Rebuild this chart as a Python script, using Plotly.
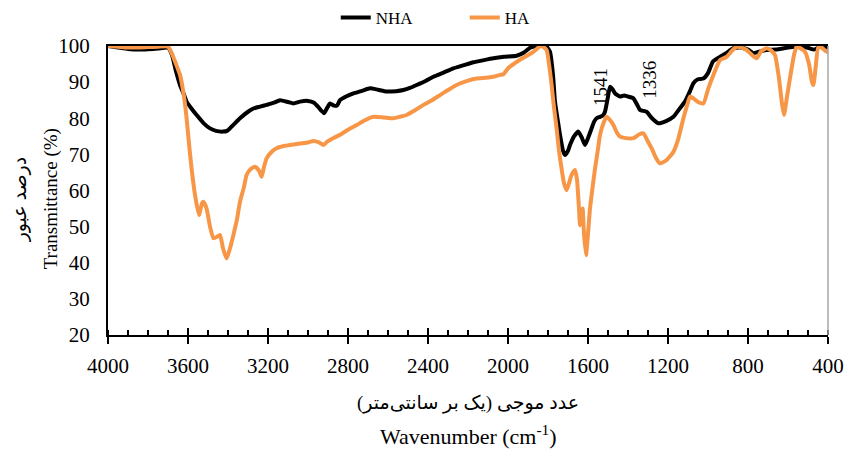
import plotly.graph_objects as go

# ---- data ----
nha_wn = [4000, 3950, 3900, 3850, 3800, 3750, 3700, 3680, 3660, 3640, 3620, 3607, 3580, 3557, 3520,
          3490, 3460, 3425, 3405, 3380, 3340, 3300, 3273, 3240, 3207, 3170, 3140, 3100, 3073, 3040,
          3000, 2970, 2950, 2935, 2920, 2905, 2890, 2870, 2855, 2840, 2810, 2773, 2730, 2690, 2650,
          2607, 2560, 2523, 2490, 2457, 2410, 2373, 2320, 2273, 2220, 2173, 2120, 2073, 2020, 1957,
          1920, 1890, 1860, 1840, 1810, 1790, 1775, 1765, 1750, 1740, 1725, 1715, 1700, 1690, 1670,
          1648, 1630, 1615, 1600, 1582, 1570, 1557, 1540, 1525, 1515, 1500, 1490, 1477, 1465, 1440,
          1420, 1400, 1373, 1355, 1340, 1320, 1307, 1280, 1248, 1210, 1173, 1140, 1115, 1090, 1073,
          1050, 1023, 1000, 975, 940, 910, 873, 840, 800, 773, 740, 707, 660, 607, 560, 500, 470, 440, 400]
nha_t = [100, 99.6, 99.2, 99.0, 99.1, 99.3, 99.5, 97.5, 93, 89.2, 86.5, 84.6, 82.5, 80.9, 78.5,
         77.2, 76.5, 76.3, 76.5, 77.8, 80, 81.8, 82.7, 83.2, 83.7, 84.3, 85, 84.5, 84.1, 84.6,
         84.8, 84.3, 83.2, 82.2, 81.4, 82.8, 84.1, 83.5, 83.5, 85, 86, 86.9, 87.6, 88.3, 87.9,
         87.4, 87.5, 87.8, 88.4, 89.2, 90.4, 91.5, 92.7, 93.8, 94.7, 95.5, 96.1, 96.6, 97, 97.3,
         98.2, 99.5, 100, 100, 100, 98.4, 92, 84.6, 79, 75.4, 71, 69.8, 71, 72.6, 75,
         76.3, 74.5, 72.6, 74.5, 77.2, 79, 80, 80.4, 80.8, 81.8, 86, 88.7, 88, 86.9, 86,
         86.3, 86, 85.5, 83.8, 82.3, 82, 81.8, 80, 78.6, 79.2, 80.4, 82.8, 84.6, 87.5, 89.7,
         90.8, 91, 92.5, 95.7, 97, 98, 99.4, 99.6, 99, 98, 98.5, 98.9, 99, 99.5, 99.8, 99.5, 99, 99.8, 99.6]

ha_wn = [4000, 3950, 3900, 3850, 3800, 3750, 3700, 3682, 3660, 3640, 3620, 3607, 3595, 3582, 3565,
         3545, 3530, 3523, 3507, 3490, 3473, 3455, 3440, 3425, 3407, 3390, 3373, 3355, 3340, 3320,
         3307, 3285, 3265, 3245, 3232, 3220, 3207, 3180, 3157, 3120, 3090, 3040, 3000, 2973, 2945,
         2923, 2905, 2890, 2870, 2840, 2800, 2757, 2720, 2673, 2620, 2573, 2540, 2507, 2465, 2423,
         2380, 2340, 2300, 2257, 2200, 2157, 2110, 2073, 2040, 2023, 2000, 1990, 1940, 1900, 1873,
         1850, 1832, 1807, 1795, 1782, 1770, 1757, 1745, 1732, 1720, 1707, 1695, 1682, 1665, 1655,
         1645, 1640, 1633, 1627, 1620, 1610, 1600, 1590, 1578, 1565, 1550, 1540, 1520, 1507, 1490,
         1473, 1455, 1440, 1410, 1373, 1345, 1323, 1300, 1282, 1260, 1240, 1210, 1173, 1150, 1123,
         1105, 1090, 1073, 1050, 1023, 1000, 973, 940, 907, 880, 857, 830, 807, 780, 757,
         735, 707, 685, 665, 645, 630, 620, 605, 582, 570, 557, 535, 515, 495, 480,
         473, 462, 448, 430, 407, 400]
ha_t = [100, 99.8, 99.6, 99.6, 99.7, 99.8, 99.8, 98, 95, 92, 86, 80, 73, 66, 58.8,
        53.2, 56.5, 56.9, 55, 50, 46.8, 47.2, 47.7, 44, 41.2, 44, 47.7, 52, 56.9, 61,
        64.3, 66, 66.6, 65.5, 63.8, 66.5, 68.9, 70.8, 71.7, 72.3, 72.6, 73, 73.3, 73.7, 73.3,
        72.6, 73.5, 74, 74.6, 75.4, 76.8, 78.1, 79.3, 80.4, 80.2, 80, 80.4, 80.9, 82.2, 83.7,
        85, 86.4, 87.8, 89.2, 90.4, 91, 91.2, 91.5, 92, 92.2, 93.8, 94.3, 96.2, 97.5, 98.4,
        99.5, 100, 98.9, 95, 89.2, 83, 77.2, 71, 66, 62, 60.1, 62, 64.3, 65.7, 63,
        55, 50.4, 52, 55, 48, 42.1, 48, 55, 60.5, 66, 71.5, 75.4, 79, 80.4, 79.5,
        78.1, 76, 74.9, 74.5, 74.5, 75.5, 75.8, 73.5, 71.7, 69, 67.5, 68.3, 70.7, 74, 80,
        83.5, 86, 85.5, 84.5, 84.1, 88, 92, 96.1, 97, 98.7, 99.8, 99.5, 98.9, 97.5, 96.6,
        98.5, 99.4, 98.8, 97.5, 91, 84, 80.9, 86, 93.8, 97.5, 99.8, 99.3, 98.4, 95, 90,
        89.2, 94, 99.8, 99.5, 98.4, 99]

x_ticks = [4000, 3600, 3200, 2800, 2400, 2000, 1600, 1200, 800, 400]
y_ticks = [20, 30, 40, 50, 60, 70, 80, 90, 100]
peak_labels = ["1541", "1336"]
peak_pos = [1541, 1336]

FONT = "Liberation Serif, Times New Roman, DejaVu Serif, serif"
ARFONT = "Liberation Serif, DejaVu Sans, serif"
ORANGE = "#F79646"

fig = go.Figure()
fig.add_trace(go.Scatter(x=nha_wn, y=nha_t, mode="lines", name="NHA",
                         line=dict(color="black", width=4, shape="spline", smoothing=0.5)))
fig.add_trace(go.Scatter(x=ha_wn, y=ha_t, mode="lines", name="HA",
                         line=dict(color=ORANGE, width=4, shape="spline", smoothing=0.5)))
# helper axis for inner half of crossing major ticks
fig.add_trace(go.Scatter(x=[], y=[], xaxis="x2", showlegend=False, hoverinfo="skip"))

fig.update_layout(
    width=845, height=450,
    margin=dict(l=108, r=17, t=46, b=115, autoexpand=False),
    paper_bgcolor="white", plot_bgcolor="white",
    font=dict(family=FONT, size=18, color="black"),
    showlegend=True,
    legend=dict(orientation="h", xref="container", yref="container", x=0.55, y=1.0,
                xanchor="center", yanchor="top", font=dict(size=17, family=FONT),
                entrywidth=84, tracegroupgap=0),
    xaxis=dict(range=[4000, 400], tickmode="array", tickvals=x_ticks,
               ticktext=[str(v) for v in x_ticks],
               showgrid=False, zeroline=False, showline=True, linecolor="black", linewidth=2,
               mirror=True, ticks="outside", ticklen=7, tickwidth=2, tickcolor="black",
               tickfont=dict(size=21, family=FONT), ticklabelstandoff=4, automargin=False,
               minor=dict(dtick=100, tick0=0, ticks="inside", ticklen=5, tickwidth=1.5,
                          tickcolor="black", showgrid=False)),
    xaxis2=dict(range=[4000, 400], overlaying="x", anchor="y", side="bottom",
                tickmode="array", tickvals=x_ticks, showticklabels=False,
                showgrid=False, zeroline=False, showline=False, automargin=False,
                ticks="inside", ticklen=7, tickwidth=2, tickcolor="black"),
    yaxis=dict(range=[20, 100], tickmode="array", tickvals=y_ticks,
               ticktext=[str(v) for v in y_ticks], automargin=False,
               showgrid=False, zeroline=False, showline=True, linecolor="black", linewidth=2,
               ticks="", tickfont=dict(size=21, family=FONT), ticklabelstandoff=12),
)

# right border (grey)
fig.add_shape(type="line", xref="paper", yref="paper", x0=1, x1=1, y0=0, y1=1,
              line=dict(color="#A6A6A6", width=1.5))

# axis titles
fig.add_annotation(xref="paper", yref="paper", x=-0.097, y=0.47, text="Transmittance (%)",
                   textangle=-90, showarrow=False, font=dict(size=19, family=FONT))
fig.add_annotation(xref="paper", yref="paper", x=-0.14, y=0.47, text="درصد عبور",
                   textangle=-90, showarrow=False, font=dict(size=19, family=ARFONT))
fig.add_annotation(xref="paper", yref="paper", x=0.5, y=-0.28,
                   text="عدد موجی (یک بر سانتی\u200cمتر)", showarrow=False,
                   font=dict(size=19, family=ARFONT))
fig.add_annotation(xref="paper", yref="paper", x=0.5, y=-0.40,
                   text="Wavenumber (cm<sup>-1</sup>)", showarrow=False,
                   font=dict(size=22, family=FONT))

# peak labels
for lbl, pos, yv, xs in zip(peak_labels, peak_pos, [88.6, 90.6], [0, 9]):
    fig.add_annotation(x=pos, y=yv, text=lbl, textangle=-90, showarrow=False, xshift=xs,
                       font=dict(size=19, family=FONT))

fig.write_html("out.html")
